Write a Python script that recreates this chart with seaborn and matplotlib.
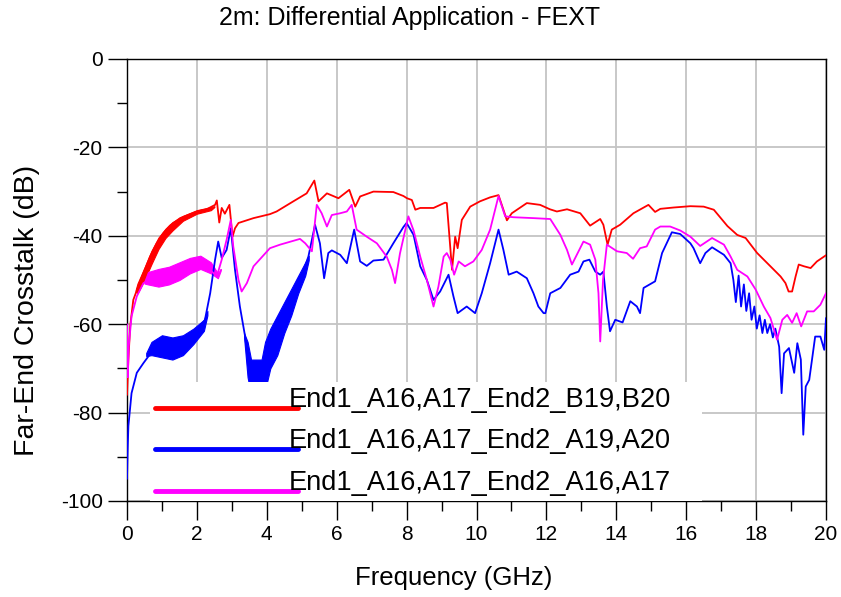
import numpy as np
import pandas as pd
import matplotlib
matplotlib.use("Agg")
import matplotlib.pyplot as plt
from matplotlib.ticker import MultipleLocator
from matplotlib.legend_handler import HandlerLine2D
import seaborn as sns

# ---------------- data ----------------
series_names = ["End1_A16,A17_End2_B19,B20",
                "End1_A16,A17_End2_A19,A20",
                "End1_A16,A17_End2_A16,A17"]
series_colors = ["#FF0000", "#0000FF", "#FF00FF"]

red_f = [0.0, 0.04, 0.09, 0.18, 0.32, 0.47, 0.66, 0.85, 1.04, 1.23, 1.52, 2.0, 2.28, 2.52,
         2.57, 2.64, 2.71, 2.80, 2.93, 3.02, 3.09, 3.19, 3.62, 4.09, 4.28, 4.76, 5.14, 5.36,
         5.48, 5.72, 6.05, 6.36, 6.53, 6.67, 7.05, 7.62, 7.91, 8.01, 8.15, 8.25, 8.39, 8.77,
         9.10, 9.15, 9.30, 9.39, 9.46, 9.58, 9.82, 10.1, 10.39, 10.63, 10.77, 10.87, 11.01,
         11.44, 11.82, 12.1, 12.3, 12.59, 12.97, 13.25, 13.54, 13.63, 13.75, 13.87, 14.11,
         14.49, 14.92, 15.11, 15.26, 15.64, 16.12, 16.5, 16.79, 17.18, 17.46, 17.70, 18.03,
         18.41, 18.70, 18.84, 18.93, 19.03, 19.13, 19.22, 19.37, 19.56, 19.74, 20.0]
red_db = [-76, -68, -60.5, -54.5, -51.5, -48.4, -44.7, -41.7, -39.4, -37.7, -36.0, -34.5, -34.0, -33.0,
          -32.0, -37.0, -33.7, -35.0, -33.0, -40.2, -38.3, -37.1, -36.0, -35.1, -34.5, -32.2, -30.4, -27.5,
          -32.2, -30.4, -31.5, -29.6, -33.4, -31.1, -30.0, -30.1, -31.0, -31.5, -31.9, -34.1, -33.7, -33.7,
          -32.5, -32.6, -47.7, -40.2, -42.8, -36.4, -33.4, -32.2, -31.3, -30.8, -34.1, -36.5, -34.9,
          -32.6, -33.0, -34.0, -34.5, -34.0, -34.9, -37.7, -36.2, -37.5, -42.0, -38.6, -37.5,
          -34.9, -33.0, -34.6, -33.9, -33.6, -33.3, -33.4, -34.1, -37.8, -39.8, -40.5, -43.9,
          -46.9, -49.2, -50.7, -52.6, -52.6, -49.2, -46.5, -46.9, -47.3, -45.8, -44.4]

blue_f = [0.0, 0.02, 0.04, 0.13, 0.28, 0.47, 0.75, 1.04, 1.52, 2.0, 2.23, 2.38, 2.52, 2.61, 2.71,
          2.85, 2.97, 3.09, 3.23, 3.38, 3.47, 3.62, 3.90, 4.05, 4.28, 4.57, 4.76, 4.99, 5.19,
          5.38, 5.52, 5.64, 5.76, 5.86, 6.10, 6.29, 6.50, 6.67, 6.86, 7.05, 7.34, 7.62, 7.91,
          8.0, 8.2, 8.39, 8.58, 8.77, 8.96, 9.20, 9.34, 9.46, 9.72, 9.96, 10.15, 10.39, 10.63,
          10.77, 10.92, 11.15, 11.44, 11.63, 11.77, 11.92, 11.97, 12.11, 12.40, 12.68, 12.92,
          13.06, 13.23, 13.40, 13.54, 13.63, 13.73, 13.82, 13.97, 14.18, 14.40, 14.59, 14.68,
          14.78, 15.11, 15.31, 15.59, 15.83, 16.12, 16.21, 16.40, 16.55, 16.74, 17.08, 17.27,
          17.35, 17.42, 17.50, 17.57, 17.65, 17.72, 17.80, 17.87, 17.95, 18.02, 18.10, 18.18,
          18.25, 18.32, 18.40, 18.48, 18.55, 18.66, 18.73, 18.80, 18.94, 19.09, 19.18, 19.28,
          19.35, 19.42, 19.52, 19.60, 19.69, 19.84, 19.95, 20.0]
blue_db = [-95, -88, -83, -75.6, -71.0, -68.8, -65.8, -64.6, -64.6, -61.6, -59.0, -53, -45.4, -41.3, -45.0,
           -43.2, -38.3, -47.7, -56, -62.8, -68.8, -73.3, -73.3, -65, -62, -56.7, -53.7, -49.2, -44.7,
           -37.5, -41.7, -49.6, -43.9, -43.3, -44.3, -46.2, -38.6, -45.8, -46.8, -45.6, -45.4, -41.7, -38.0,
           -37.1, -39.8, -46.9, -50.0, -54.5, -52.6, -48.8, -53.7, -57.5, -56.0, -57.5, -53.0, -46.2, -38.6,
           -43.2, -48.8, -48.1, -49.6, -53.0, -56.0, -57.5, -57.5, -53.0, -51.8, -48.8, -48.1,
           -45.8, -45.4, -48.1, -48.8, -48.1, -56.0, -61.6, -59.0, -59.6, -54.8, -56.0, -57.5,
           -51.8, -50.3, -43.9, -39.2, -39.6, -41.7, -42.8, -46.2, -43.9, -42.6, -44.3, -46.2,
           -50, -55, -49, -56, -51, -57, -53, -59, -56, -61, -58, -62,
           -59, -62, -60, -63, -61, -65.1, -75.6, -66.6, -65.4, -71.0, -64.3, -68.0,
           -85.0, -74.1, -72.6, -68.0, -62.8, -62.8, -65.8, -58.6]

mag_f = [0.0, 0.02, 0.05, 0.13, 0.28, 0.47, 0.75, 1.04, 1.33, 1.71, 2.0, 2.28, 2.57, 2.71, 2.85,
         2.97, 3.04, 3.19, 3.28, 3.43, 3.62, 4.09, 4.38, 4.95, 5.10, 5.29, 5.43, 5.57, 5.72,
         5.86, 6.10, 6.29, 6.43, 6.57, 6.86, 7.15, 7.43, 7.58, 7.67, 7.81, 8.05, 8.2, 8.39,
         8.58, 8.77, 8.91, 9.06, 9.15, 9.25, 9.36, 9.49, 9.67, 9.91, 10.15, 10.39, 10.63, 10.82,
         11.06, 11.63, 12.11, 12.40, 12.59, 12.73, 12.87, 13.06, 13.25, 13.40, 13.49, 13.54,
         13.62, 13.73, 14.02, 14.30, 14.48, 14.68, 14.87, 15.11, 15.26, 15.54, 15.83, 16.12,
         16.40, 16.74, 17.08, 17.27, 17.46, 17.75, 17.99, 18.22, 18.41, 18.60, 18.75, 18.89,
         19.03, 19.16, 19.29, 19.46, 19.65, 19.84, 20.0]
mag_db = [-60, -72, -65, -58.2, -53.7, -50.7, -49.5, -49.0, -48.0, -46.5, -45.8, -46.9, -49.2, -45.4, -40.9,
          -36.4, -42.4, -50, -52.6, -50.7, -46.9, -42.8, -42.0, -40.7, -41.7, -43.5, -33.0, -34.9, -37.9,
          -35.3, -34.9, -34.5, -33.0, -38.6, -40.2, -41.7, -44.7, -47.7, -50.7, -44, -35.6, -38.8, -44.7,
          -50.0, -56.0, -51.5, -44.7, -43.9, -45.4, -48.8, -45.8, -46.9, -45.8, -43.2, -38.6, -31.0, -35.6,
          -35.8, -36.0, -36.2, -39.8, -43.2, -46.5, -44.3, -41.3, -42.0, -45.4, -53.0, -63.9,
          -50.0, -42.0, -43.5, -43.9, -45.2, -42.8, -42.4, -38.6, -37.9, -37.9, -38.8, -40.2,
          -42.3, -40.5, -42.0, -44.7, -47.7, -49.2, -52.2, -56.0, -58.6, -63.5, -59.0, -57.9,
          -59.7, -57.5, -60.5, -57.1, -57.1, -55.6, -53.0]

# noise envelopes (thick, noisy parts of the traces)
red_band_f = [0.25, 0.3, 0.5, 0.7, 0.9, 1.1, 1.3, 1.6, 2.0, 2.4, 2.5]
red_band_hi = [-52.2, -50.8, -47.2, -43.4, -40.4, -38.4, -36.9, -35.5, -34.2, -33.5, -33.3]
red_band_lo = [-52.6, -53.0, -50.0, -46.4, -43.0, -40.5, -38.8, -36.6, -35.0, -34.2, -33.5]

mag_band_f = [0.5, 0.6, 0.9, 1.2, 1.5, 1.8, 2.1, 2.4, 2.6, 2.68]
mag_band_hi = [-50.3, -48.2, -47.5, -47.0, -46.0, -45.0, -44.5, -46.0, -48.5, -47.5]
mag_band_lo = [-50.8, -51.0, -51.5, -51.0, -50.0, -48.5, -47.5, -48.5, -49.6, -47.9]

blue_band1_f = [0.55, 0.7, 1.0, 1.3, 1.6, 1.9, 2.2, 2.3]
blue_band1_hi = [-66.5, -64.0, -62.5, -63.0, -62.5, -61.0, -59.0, -57.0]
blue_band1_lo = [-67.2, -67.0, -67.5, -68.0, -67.0, -64.5, -61.5, -58.0]

blue_band2_f = [3.35, 3.45, 3.55, 3.70, 3.85, 3.95, 4.1, 4.3, 4.5, 4.7, 4.9, 5.1, 5.2]
blue_band2_hi = [-62, -64, -68, -68, -68, -64, -61, -58, -55, -52, -49, -46, -44.5]
blue_band2_lo = [-63, -72, -76, -76, -76, -75, -70, -67, -62, -58, -53, -49, -45.5]

x_ticks = [0, 2, 4, 6, 8, 10, 12, 14, 16, 18, 20]
y_ticks = [-100, -80, -60, -40, -20, 0]

title_text = "2m: Differential Application - FEXT"
x_label = "Frequency (GHz)"
y_label = "Far-End Crosstalk (dB)"

# ---------------- figure ----------------
sns.set_theme(style="white")
plt.rcParams["font.family"] = ["Liberation Sans", "DejaVu Sans"]
plt.rcParams["axes.unicode_minus"] = False
for key in ["text.color", "axes.labelcolor", "xtick.color", "ytick.color", "axes.edgecolor"]:
    plt.rcParams[key] = "black"

fig = plt.figure(figsize=(8.41, 5.97), dpi=100)
ax = fig.add_axes([127 / 841, 1 - 501 / 597, (826 - 127) / 841, (501 - 59) / 597])

df = pd.concat([
    pd.DataFrame({"f": red_f, "db": red_db, "series": series_names[0]}),
    pd.DataFrame({"f": blue_f, "db": blue_db, "series": series_names[1]}),
    pd.DataFrame({"f": mag_f, "db": mag_db, "series": series_names[2]}),
], ignore_index=True)

sns.lineplot(data=df, x="f", y="db", hue="series", hue_order=series_names,
             palette=series_colors, estimator=None, sort=False, linewidth=1.3,
             legend=False, ax=ax, zorder=3)

for bf, lo, hi, col in [(red_band_f, red_band_lo, red_band_hi, series_colors[0]),
                        (mag_band_f, mag_band_lo, mag_band_hi, series_colors[2]),
                        (blue_band1_f, blue_band1_lo, blue_band1_hi, series_colors[1]),
                        (blue_band2_f, blue_band2_lo, blue_band2_hi, series_colors[1])]:
    ax.fill_between(bf, lo, hi, color=col, linewidth=0.8, edgecolor=col, zorder=2.5)

ax.set_xlim(0, 20)
ax.set_ylim(-100, 0)
ax.set_xticks(x_ticks)
ax.set_yticks(y_ticks)
ax.xaxis.set_minor_locator(MultipleLocator(1))
ax.yaxis.set_minor_locator(MultipleLocator(10))
ax.grid(True, which="major", color="#C4C4C4", linewidth=1.3, zorder=1)
ax.set_axisbelow(True)
ax.tick_params(which="major", direction="out", length=13.5, width=1, color="black",
               labelcolor="black", labelsize=15, pad=4, bottom=True, left=True,
               top=False, right=False)
ax.tick_params(which="minor", direction="out", length=7, width=1, color="black",
               bottom=True, left=True, top=False, right=False)
for s in ax.spines.values():
    s.set_color("black")
    s.set_linewidth(1.0)
    s.set_visible(True)

ax.set_xlabel(x_label, fontsize=18.5, color="black", va="center", ha="center")
ax.set_ylabel(y_label, fontsize=20.5, color="black", va="center", ha="center")
ax.xaxis.set_label_coords((454 - 127) / 699, -(578 - 501) / 442)
ax.yaxis.set_label_coords(-(127 - 27) / 699, (501 - 310) / 442)
fig.text(410 / 841, 1 - 18 / 597, title_text, fontsize=18, ha="center", va="center",
         color="black")


class LowHandler(HandlerLine2D):
    def create_artists(self, legend, orig_handle, xdescent, ydescent, width, height,
                       fontsize, trans):
        arts = super().create_artists(legend, orig_handle, xdescent, ydescent + 1.1 * height,
                                      width, height, fontsize, trans)
        for a in arts:
            a.set_linewidth(3.5)
        return arts


handles = ax.get_lines()[:3]
leg = ax.legend(handles, series_names, loc="lower left",
                bbox_to_anchor=(23 / 699, 0.0, 552 / 699, 113 / 442), mode="expand",
                borderaxespad=0, frameon=True, fancybox=False, framealpha=1,
                facecolor="white", edgecolor="none", fontsize=19.6, handlelength=5.25,
                handletextpad=-0.35, labelspacing=0.56, borderpad=0.2,
                handler_map={matplotlib.lines.Line2D: LowHandler()})
for t in leg.get_texts():
    t.set_color("black")
leg.set_zorder(5)

fig.savefig("out.png", dpi=100)
